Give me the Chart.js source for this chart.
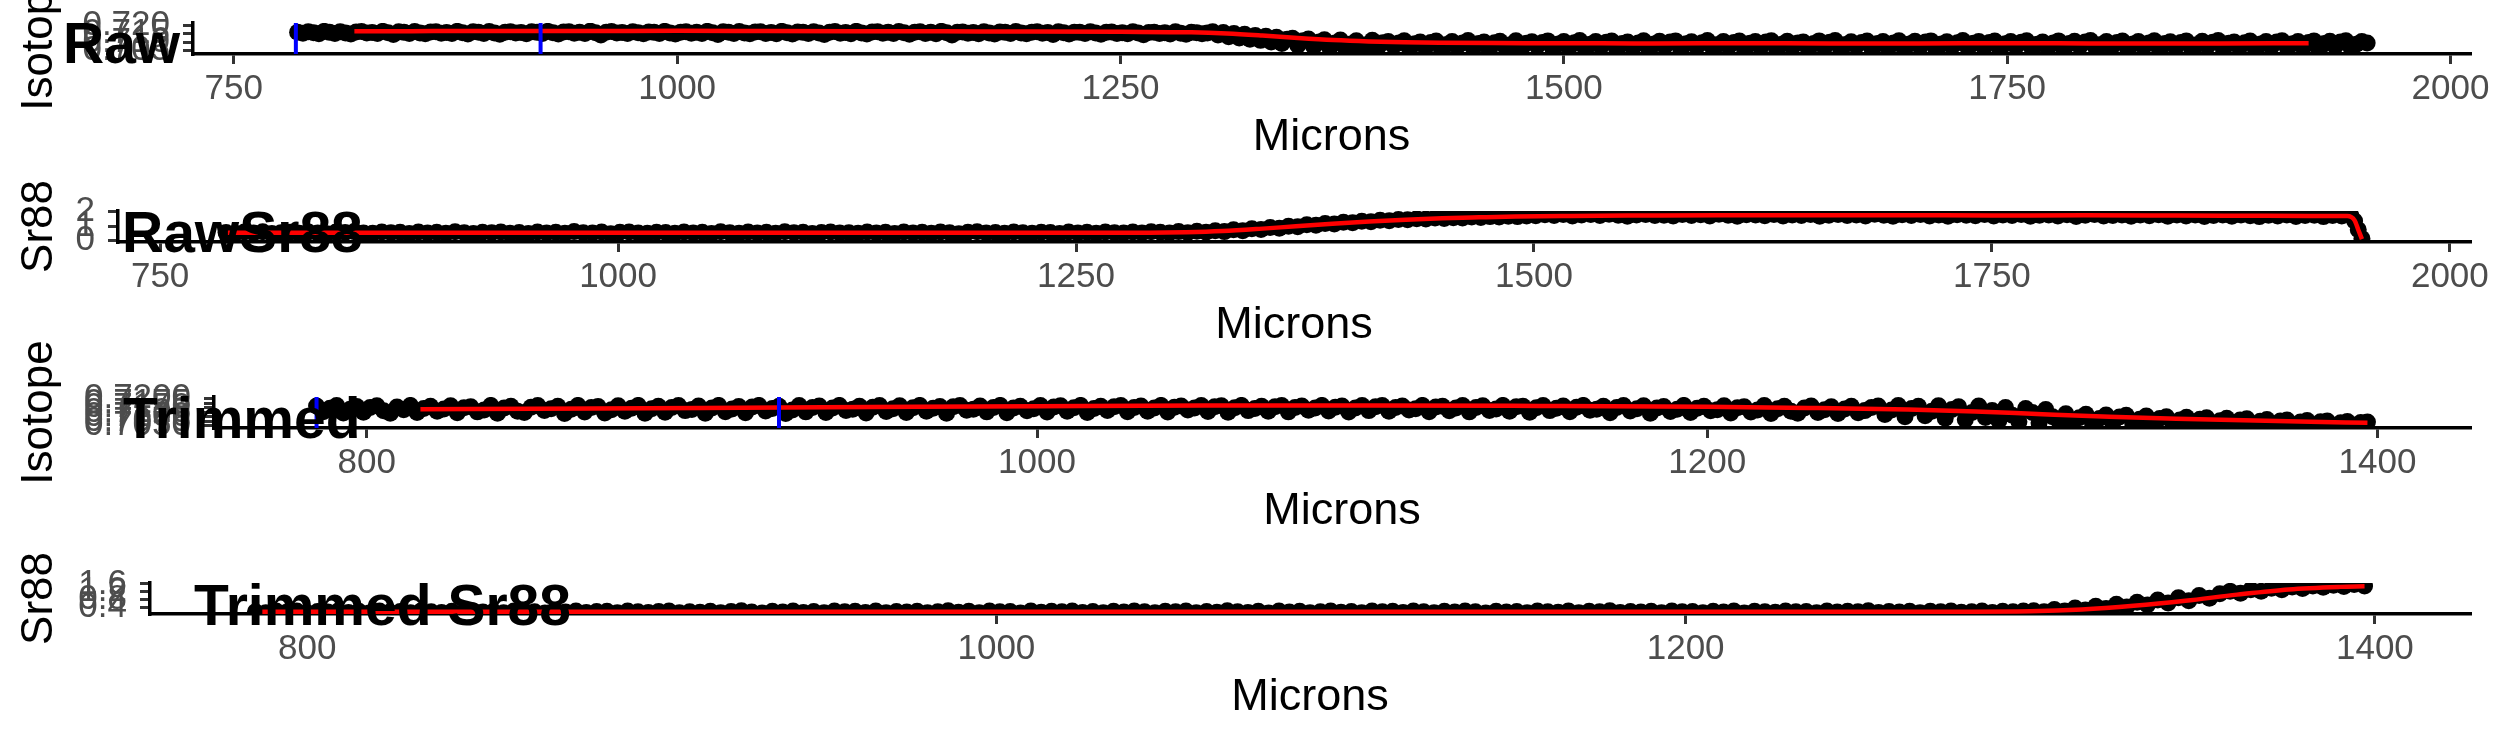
<!DOCTYPE html>
<html><head><meta charset="utf-8">
<script src="https://cdn.jsdelivr.net/npm/chart.js@4.4.1/dist/chart.umd.min.js"></script>
<style>
html,body{margin:0;padding:0;background:#fff;}
#wrap{position:relative;width:2495px;height:749px;overflow:hidden;background:#fff;}
#wrap canvas{position:absolute;left:0;top:0;}
</style></head><body>
<div id="wrap">
<canvas id="c1" width="2495" height="749"></canvas>
<canvas id="c2" width="2495" height="749"></canvas>
<canvas id="c3" width="2495" height="749"></canvas>
<canvas id="c4" width="2495" height="749"></canvas>
</div>
<script>
// ---------------- DATA ----------------
const WINDOW_LIMITS = [785, 923];

const RAW_X_TICKS = [750, 1000, 1250, 1500, 1750, 2000];
const TRIM_X_TICKS = [800, 1000, 1200, 1400];
const RAW_RATIO_Y_TICKS = [0.705, 0.710, 0.715, 0.720];
const RAW_SR88_Y_TICKS = [0, 1, 2];
const TRIM_RATIO_Y_TICKS = [0.7050, 0.7075, 0.7100, 0.7125, 0.7150, 0.7175, 0.7200];
const TRIM_SR88_Y_TICKS = [0.4, 0.8, 1.2, 1.6];

const RAW_RATIO_MICRONS = [
786,789,792,795,798,801,804,807,810,813,
816,819,822,825,828,831,834,837,840,843,
846,849,852,855,858,861,864,867,870,873,
876,879,882,885,888,891,894,897,900,903,
906,909,912,915,918,921,924,927,930,933,
936,939,942,945,948,951,954,957,960,963,
966,969,972,975,978,981,984,987,990,993,
996,999,1002,1005,1008,1011,1014,1017,1020,1023,
1026,1029,1032,1035,1038,1041,1044,1047,1050,1053,
1056,1059,1062,1065,1068,1071,1074,1077,1080,1083,
1086,1089,1092,1095,1098,1101,1104,1107,1110,1113,
1116,1119,1122,1125,1128,1131,1134,1137,1140,1143,
1146,1149,1152,1155,1158,1161,1164,1167,1170,1173,
1176,1179,1182,1185,1188,1191,1194,1197,1200,1203,
1206,1209,1212,1215,1218,1221,1224,1227,1230,1233,
1236,1239,1242,1245,1248,1251,1254,1257,1260,1263,
1266,1269,1272,1275,1278,1281,1284,1287,1290,1293,
1296,1299,1302,1305,1308,1311,1314,1317,1320,1323,
1326,1329,1332,1335,1338,1341,1344,1347,1350,1353,
1356,1359,1362,1365,1368,1371,1374,1377,1380,1383,
1386,1389,1392,1395,1398,1401,1404,1407,1410,1413,
1416,1419,1422,1425,1428,1431,1434,1437,1440,1443,
1446,1449,1452,1455,1458,1461,1464,1467,1470,1473,
1476,1479,1482,1485,1488,1491,1494,1497,1500,1503,
1506,1509,1512,1515,1518,1521,1524,1527,1530,1533,
1536,1539,1542,1545,1548,1551,1554,1557,1560,1563,
1566,1569,1572,1575,1578,1581,1584,1587,1590,1593,
1596,1599,1602,1605,1608,1611,1614,1617,1620,1623,
1626,1629,1632,1635,1638,1641,1644,1647,1650,1653,
1656,1659,1662,1665,1668,1671,1674,1677,1680,1683,
1686,1689,1692,1695,1698,1701,1704,1707,1710,1713,
1716,1719,1722,1725,1728,1731,1734,1737,1740,1743,
1746,1749,1752,1755,1758,1761,1764,1767,1770,1773,
1776,1779,1782,1785,1788,1791,1794,1797,1800,1803,
1806,1809,1812,1815,1818,1821,1824,1827,1830,1833,
1836,1839,1842,1845,1848,1851,1854,1857,1860,1863,
1866,1869,1872,1875,1878,1881,1884,1887,1890,1893,
1896,1899,1902,1905,1908,1911,1914,1917,1920,1923,
1926,1929,1932,1935,1938,1941,1944,1947,1950,1953];

const RAW_RATIO_VALUES = [
0.7158,0.7152,0.7161,0.7155,0.7149,0.7163,0.7157,0.7151,0.7160,0.7154,
0.7148,0.7159,0.7162,0.7153,0.7156,0.7150,0.7163,0.7155,0.7144,0.7160,
0.7157,0.7151,0.7162,0.7154,0.7149,0.7159,0.7161,0.7152,0.7156,0.7150,
0.7163,0.7155,0.7148,0.7160,0.7158,0.7151,0.7162,0.7154,0.7146,0.7158,
0.7161,0.7153,0.7156,0.7149,0.7160,0.7157,0.7151,0.7163,0.7155,0.7148,
0.7159,0.7161,0.7152,0.7157,0.7150,0.7164,0.7155,0.7142,0.7158,0.7162,
0.7153,0.7156,0.7150,0.7161,0.7155,0.7149,0.7159,0.7157,0.7151,0.7163,
0.7154,0.7147,0.7158,0.7161,0.7152,0.7157,0.7150,0.7163,0.7155,0.7145,
0.7160,0.7158,0.7151,0.7162,0.7154,0.7149,0.7159,0.7161,0.7150,0.7156,
0.7149,0.7163,0.7155,0.7148,0.7159,0.7157,0.7150,0.7161,0.7153,0.7144,
0.7158,0.7162,0.7152,0.7156,0.7149,0.7163,0.7154,0.7148,0.7159,0.7160,
0.7152,0.7157,0.7150,0.7162,0.7155,0.7146,0.7158,0.7161,0.7151,0.7157,
0.7149,0.7163,0.7155,0.7141,0.7158,0.7159,0.7152,0.7156,0.7149,0.7161,
0.7154,0.7148,0.7159,0.7157,0.7151,0.7162,0.7154,0.7149,0.7158,0.7160,
0.7152,0.7156,0.7145,0.7161,0.7155,0.7148,0.7158,0.7157,0.7150,0.7161,
0.7153,0.7146,0.7157,0.7159,0.7151,0.7155,0.7149,0.7160,0.7153,0.7143,
0.7156,0.7158,0.7150,0.7155,0.7148,0.7160,0.7152,0.7146,0.7157,0.7155,
0.7149,0.7154,
0.7160,0.7141,0.7156,0.7132,0.7150,0.7124,0.7146,0.7117,0.7138,0.7110,
0.7134,0.7100,0.7128,0.7092,0.7116,0.7122,0.7082,0.7108,0.7118,0.7072,
0.7100,0.7114,0.7066,0.7094,0.7112,0.7062,0.7088,0.7108,0.7058,0.7084,
0.7110,0.7066,0.7096,
0.7104,0.7078,0.7094,0.7108,0.7062,0.7090,0.7101,0.7070,0.7097,0.7106,
0.7058,0.7086,0.7103,0.7075,0.7095,0.7109,0.7066,0.7091,0.7100,0.7054,
0.7096,0.7105,0.7072,0.7085,0.7108,0.7060,0.7093,0.7102,0.7077,0.7098,
0.7107,0.7056,0.7089,0.7104,0.7070,0.7096,0.7109,0.7064,0.7087,0.7103,
0.7074,0.7099,0.7106,0.7052,0.7092,0.7101,0.7068,0.7095,0.7108,0.7061,
0.7088,0.7105,0.7076,0.7100,0.7107,0.7055,0.7090,0.7102,0.7071,0.7096,
0.7109,0.7066,0.7086,0.7104,0.7075,0.7098,0.7106,0.7053,0.7093,0.7103,
0.7069,0.7100,0.7108,0.7060,0.7087,0.7105,0.7073,0.7095,0.7101,0.7057,
0.7091,0.7107,0.7070,0.7099,0.7109,0.7063,0.7086,0.7102,0.7078,0.7097,
0.7106,0.7054,0.7092,0.7104,0.7067,0.7094,0.7108,0.7061,0.7089,0.7105,
0.7072,0.7101,0.7107,0.7051,0.7088,0.7102,0.7075,0.7096,0.7109,0.7064,
0.7093,0.7103,0.7070,0.7098,0.7106,0.7058,0.7090,0.7104,0.7074,0.7099,
0.7108,0.7062,0.7087,0.7101,0.7068,0.7095,0.7107,0.7054,0.7092,0.7105,
0.7076,0.7100,0.7109,0.7065,0.7086,0.7103,0.7071,0.7097,0.7106,0.7059,
0.7089,0.7104,0.7073,0.7094,0.7108,0.7052,0.7091,0.7102,0.7069,0.7098,
0.7107,0.7063,0.7085,0.7105,0.7077,0.7099,0.7109,0.7057,0.7093,0.7101,
0.7070,0.7096,0.7106,0.7060,0.7088,0.7104,0.7074,0.7100,0.7108,0.7066,
0.7090,0.7103,0.7070,0.7097,0.7107,0.7055,0.7092,0.7105,0.7076,0.7100,
0.7108,0.7064,0.7087,0.7104,0.7094];

const RAW_RATIO_SMOOTH_MICRONS = [818,850,900,950,1000,1050,1100,1150,1200,1250,1290,1310,1330,1350,1370,1390,1410,1430,1460,1500,1550,1600,1650,1700,1750,1800,1850,1900,1920];
const RAW_RATIO_SMOOTH_VALUES = [0.7163,0.7164,0.7165,0.7165,0.7166,0.7165,0.7164,0.7163,0.7162,0.7160,0.7157,0.7150,0.7138,0.7124,0.7112,0.7104,0.7099,0.7096,0.7094,0.7093,0.7092,0.7093,0.7092,0.7092,0.7093,0.7092,0.7092,0.7093,0.7093];

const RAW_SR88_MICRONS = [
786,791,796,801,806,811,816,821,826,831,
836,841,846,851,856,861,866,871,876,881,
886,891,896,901,906,911,916,921,926,931,
936,941,946,951,956,961,966,971,976,981,
986,991,996,1001,1006,1011,1016,1021,1026,1031,
1036,1041,1046,1051,1056,1061,1066,1071,1076,1081,
1086,1091,1096,1101,1106,1111,1116,1121,1126,1131,
1136,1141,1146,1151,1156,1161,1166,1171,1176,1181,
1186,1191,1196,1201,1206,1211,1216,1221,1226,1231,
1236,1241,1246,1251,1256,1261,1266,1271,1276,1281,
1286,1291,1296,1301,1306,1311,1316,1321,1326,1331,
1336,1341,1346,1351,1356,1361,1366,1371,1376,1381,
1386,1391,1396,1401,1406,1411,1416,1421,1426,1431,
1436,1441,1446,1451,1456,1461,1466,1471,1476,1481,
1486,1491,1496,1501,1506,1511,1516,1521,1526,1531,
1536,1541,1546,1551,1556,1561,1566,1571,1576,1581,
1586,1591,1596,1601,1606,1611,1616,1621,1626,1631,
1636,1641,1646,1651,1656,1661,1666,1671,1676,1681,
1686,1691,1696,1701,1706,1711,1716,1721,1726,1731,
1736,1741,1746,1751,1756,1761,1766,1771,1776,1781,
1786,1791,1796,1801,1806,1811,1816,1821,1826,1831,
1836,1841,1846,1851,1856,1861,1866,1871,1876,1881,
1886,1891,1896,1901,1906,1911,1916,1921,1926,1931,
1936,1941,1946,1948,1950,1952];

const RAW_SR88_VALUES = [
0.56,0.50,0.60,0.53,0.61,0.49,0.55,0.58,0.51,0.60,
0.53,0.48,0.59,0.56,0.62,0.52,0.50,0.59,0.54,0.57,
0.49,0.60,0.52,0.57,0.51,0.61,0.55,0.49,0.58,0.54,
0.60,0.51,0.56,0.49,0.59,0.53,0.58,0.50,0.62,0.54,
0.52,0.59,0.48,0.57,0.60,0.53,0.50,0.58,0.56,0.51,
0.60,0.52,0.57,0.49,0.61,0.55,0.51,0.59,0.53,0.57,
0.50,0.61,0.54,0.58,0.49,0.56,0.60,0.52,0.55,0.50,
0.59,0.53,0.58,0.49,0.60,0.52,0.57,0.51,0.59,0.54,
0.48,0.57,0.61,0.53,0.56,0.50,0.59,0.54,0.51,0.58,
0.56,0.49,0.60,0.52,0.58,0.50,0.60,0.55,0.52,0.59,
0.53,0.61,0.57,
0.53,0.62,0.55,0.64,0.58,0.68,0.62,0.75,0.68,0.82,
0.76,0.90,0.86,1.00,0.96,1.10,1.06,1.19,1.15,1.27,
1.24,1.34,1.31,1.41,1.38,1.46,1.44,1.51,1.49,1.56,
1.53,1.59,1.57,1.63,1.60,1.66,1.63,1.69,1.66,1.71,
1.72,1.79,1.74,1.81,1.70,1.77,1.80,1.73,1.82,1.75,
1.69,1.78,1.81,1.73,1.76,1.70,1.80,1.74,1.79,1.71,
1.82,1.75,1.69,1.79,1.77,1.72,1.81,1.70,1.78,1.74,
1.80,1.68,1.76,1.81,1.73,1.78,1.71,1.82,1.75,1.69,
1.79,1.73,1.80,1.70,1.77,1.68,1.79,1.75,1.72,1.81,
1.70,1.78,1.74,1.80,1.69,1.76,1.78,1.71,1.79,1.67,
1.75,1.80,1.70,1.73,1.78,1.68,1.77,1.72,1.79,1.69,
1.77,1.71,1.78,1.67,1.74,1.77,1.69,1.78,1.72,1.66,
1.75,1.70,1.77,1.67,1.73,1.76,1.66,1.74,1.70,1.72,
1.35,0.75,0.15];

const RAW_SR88_SMOOTH_MICRONS = [787,820,850,900,950,1000,1050,1100,1150,1200,1250,1290,1310,1330,1350,1370,1390,1410,1430,1450,1470,1490,1520,1560,1600,1650,1700,1750,1800,1850,1900,1930,1944,1948,1950,1952];
const RAW_SR88_SMOOTH_VALUES = [0.55,0.54,0.55,0.54,0.55,0.54,0.55,0.55,0.54,0.55,0.55,0.55,0.58,0.66,0.81,0.99,1.16,1.32,1.44,1.54,1.61,1.67,1.71,1.74,1.76,1.75,1.76,1.74,1.75,1.73,1.72,1.71,1.70,1.40,0.75,0.10];

const TRIM_RATIO_MICRONS = [
785,787,789,791,793,795,797,799,801,803,
805,807,809,811,813,815,817,819,821,823,
825,827,829,831,833,835,837,839,841,843,
845,847,849,851,853,855,857,859,861,863,
865,867,869,871,873,875,877,879,881,883,
885,887,889,891,893,895,897,899,901,903,
905,907,909,911,913,915,917,919,921,923,
925,927,929,931,933,935,937,939,941,943,
945,947,949,951,953,955,957,959,961,963,
965,967,969,971,973,975,977,979,981,983,
985,987,989,991,993,995,997,999,1001,1003,
1005,1007,1009,1011,1013,1015,1017,1019,1021,1023,
1025,1027,1029,1031,1033,1035,1037,1039,1041,1043,
1045,1047,1049,1051,1053,1055,1057,1059,1061,1063,
1065,1067,1069,1071,1073,1075,1077,1079,1081,1083,
1085,1087,1089,1091,1093,1095,1097,1099,1101,1103,
1105,1107,1109,1111,1113,1115,1117,1119,1121,1123,
1125,1127,1129,1131,1133,1135,1137,1139,1141,1143,
1145,1147,1149,1151,1153,1155,1157,1159,1161,1163,
1165,1167,1169,1171,1173,1175,1177,1179,1181,1183,
1185,1187,1189,1191,1193,1195,1197,1199,1201,1203,
1205,1207,1209,1211,1213,1215,1217,1219,1221,1223,
1225,1227,1229,1231,1233,1235,1237,1239,1241,1243,
1245,1247,1249,1251,1253,1255,1257,1259,1261,1263,
1265,1267,1269,1271,1273,1275,1277,1279,1281,1283,
1285,1287,1289,1291,1293,1295,1297,1299,1301,1303,
1305,1307,1309,1311,1313,1315,1317,1319,1321,1323,
1325,1327,1329,1331,1333,1335,1337,1339,1341,1343,
1345,1347,1349,1351,1353,1355,1357,1359,1361,1363,
1365,1367,1369,1371,1373,1375,1377,1379,1381,1383,
1385,1387,1389,1391,1393,1395,1397];

const TRIM_RATIO_VALUES = [
0.7160,0.7128,0.7147,0.7162,0.7121,0.7141,0.7157,0.7125,0.7151,0.7161,
0.7133,0.7119,0.7154,0.7139,0.7163,0.7124,0.7146,0.7159,0.7130,0.7143,
0.7161,0.7122,0.7150,0.7156,0.7127,0.7137,0.7163,0.7120,0.7148,0.7158,
0.7131,0.7123,0.7153,0.7162,0.7135,0.7144,0.7159,0.7118,0.7142,0.7163,
0.7126,0.7151,0.7157,0.7121,0.7139,0.7161,0.7130,0.7147,0.7163,0.7119,
0.7145,0.7158,0.7125,0.7152,0.7162,0.7134,0.7140,0.7160,0.7120,0.7149,
0.7163,0.7128,0.7143,0.7157,0.7122,0.7154,0.7163,0.7132,0.7146,0.7159,
0.7118,0.7138,0.7162,0.7127,0.7151,0.7160,0.7123,0.7148,0.7163,0.7135,
0.7141,0.7158,0.7121,0.7153,0.7162,0.7129,0.7144,0.7161,0.7124,0.7150,
0.7163,0.7131,0.7147,0.7157,0.7120,0.7155,0.7162,0.7136,0.7142,0.7160,
0.7127,0.7152,0.7163,0.7122,0.7149,0.7159,0.7133,0.7145,0.7162,0.7126,
0.7154,0.7161,0.7130,0.7150,0.7163,0.7124,0.7146,0.7158,0.7135,0.7155,
0.7162,0.7128,0.7151,0.7160,0.7131,0.7148,0.7163,0.7126,0.7153,0.7160,
0.7137,0.7149,0.7162,0.7129,0.7156,0.7161,0.7125,0.7150,0.7163,0.7134,
0.7146,0.7159,0.7131,0.7155,0.7162,0.7127,0.7152,0.7160,0.7136,0.7148,
0.7163,0.7132,0.7153,0.7160,0.7126,0.7149,0.7162,0.7134,0.7156,0.7162,
0.7130,0.7151,0.7160,0.7138,0.7145,0.7163,0.7128,0.7154,0.7159,0.7133,
0.7148,0.7162,0.7127,0.7152,0.7161,0.7135,0.7143,0.7163,0.7131,0.7155,
0.7159,0.7125,0.7150,0.7162,0.7134,0.7147,0.7160,0.7128,0.7153,0.7163,
0.7136,0.7142,0.7158,0.7122,0.7151,0.7162,0.7132,0.7145,0.7161,0.7120,
0.7149,0.7157,0.7129,0.7141,0.7163,0.7123,0.7147,0.7159,0.7133,0.7139,
0.7161,0.7121,0.7150,0.7156,0.7126,0.7137,0.7162,0.7118,0.7144,0.7158,
0.7130,0.7120,0.7148,0.7160,0.7124,0.7139,0.7156,0.7118,0.7143,0.7159,
0.7122,0.7134,0.7152,
0.7160,0.7112,0.7138,0.7162,0.7100,0.7146,0.7158,0.7106,0.7130,0.7161,
0.7092,0.7140,0.7155,0.7085,0.7124,0.7160,0.7096,0.7134,0.7078,0.7152,
0.7108,0.7072,0.7146,0.7124,0.7066,0.7140,0.7100,0.7074,
0.7116,0.7070,0.7094,0.7114,0.7060,0.7090,0.7110,0.7066,0.7098,0.7108,
0.7056,0.7086,0.7104,0.7062,0.7090,0.7100,0.7054,0.7082,0.7097,0.7060,
0.7086,0.7094,0.7052,0.7078,0.7091,0.7057,0.7082,0.7088,0.7050,0.7074,
0.7085,0.7055,0.7076,0.7082,0.7049,0.7070,0.7079,0.7052,0.7072,0.7076,
0.7048,0.7066,0.7073,0.7052,0.7068,0.7071];

const TRIM_RATIO_SMOOTH_MICRONS = [816,850,900,950,1000,1050,1100,1150,1200,1230,1260,1280,1300,1320,1340,1360,1380,1397];
const TRIM_RATIO_SMOOTH_VALUES = [0.7142,0.7145,0.7149,0.7154,0.7159,0.7163,0.7163,0.7160,0.7155,0.7149,0.7140,0.7129,0.7114,0.7100,0.7089,0.7080,0.7072,0.7066];

const TRIM_SR88_MICRONS = [
785,788,791,794,797,800,803,806,809,812,
815,818,821,824,827,830,833,836,839,842,
845,848,851,854,857,860,863,866,869,872,
875,878,881,884,887,890,893,896,899,902,
905,908,911,914,917,920,923,926,929,932,
935,938,941,944,947,950,953,956,959,962,
965,968,971,974,977,980,983,986,989,992,
995,998,1001,1004,1007,1010,1013,1016,1019,1022,
1025,1028,1031,1034,1037,1040,1043,1046,1049,1052,
1055,1058,1061,1064,1067,1070,1073,1076,1079,1082,
1085,1088,1091,1094,1097,1100,1103,1106,1109,1112,
1115,1118,1121,1124,1127,1130,1133,1136,1139,1142,
1145,1148,1151,1154,1157,1160,1163,1166,1169,1172,
1175,1178,1181,1184,1187,1190,1193,1196,1199,1202,
1205,1208,1211,1214,1217,1220,1223,1226,1229,1232,
1235,1238,1241,1244,1247,1250,1253,1256,1259,1262,
1265,1268,1271,1274,1277,1280,1283,1286,1289,1292,
1295,1298,1301,1304,1307,1310,1313,1316,1319,1322,
1325,1328,1331,1334,1337,1340,1343,1346,1349,1352,
1355,1358,1361,1364,1367,1370,1373,1376,1379,1382,
1385,1388,1391,1394,1397];

const TRIM_SR88_VALUES = [
0.17,0.12,0.20,0.14,0.21,0.11,0.18,0.15,0.20,0.13,
0.19,0.10,0.21,0.15,0.18,0.12,0.20,0.16,0.13,0.19,
0.11,0.22,0.15,0.18,0.12,0.20,0.14,0.17,0.10,0.19,
0.15,0.21,0.13,0.18,0.19,0.11,0.20,0.16,0.13,0.18,
0.21,0.11,0.17,0.14,0.19,0.12,0.18,0.22,0.15,0.10,
0.19,0.15,0.20,0.13,0.18,0.11,0.20,0.16,0.19,0.13,
0.21,0.11,0.18,0.15,0.19,0.12,0.17,0.22,0.14,0.19,
0.12,0.20,0.16,0.18,0.10,0.20,0.14,0.19,0.16,0.21,
0.13,0.18,0.11,0.19,0.15,0.21,0.17,0.12,0.19,0.16,
0.20,0.12,0.18,0.14,0.22,0.16,0.13,0.19,0.10,0.20,
0.15,0.19,0.12,0.17,0.21,0.14,0.18,0.11,0.20,0.16,
0.19,0.13,0.21,0.16,0.12,0.19,0.15,0.20,0.17,0.10,
0.19,0.15,0.18,0.12,0.21,0.17,0.14,0.20,0.11,0.19,
0.16,0.22,0.13,0.18,0.15,0.19,0.12,0.20,0.17,0.18,
0.12,0.19,0.15,0.21,0.10,0.19,0.17,0.14,0.20,0.16,
0.18,0.12,0.20,0.15,0.19,0.16,0.22,0.13,0.18,0.15,
0.19,0.11,0.19,0.16,0.21,0.14,0.17,0.20,0.13,0.19,
0.17,0.20,
0.22,0.16,0.28,0.20,0.36,0.26,0.45,0.33,0.55,0.41,
0.66,0.51,0.77,0.62,0.89,0.74,1.00,0.86,1.10,
1.22,1.12,1.30,1.22,1.38,1.30,1.45,1.37,1.50,1.43,
1.54,1.47,1.57,1.50];

const TRIM_SR88_SMOOTH_MICRONS = [787,820,850,900,950,1000,1050,1100,1150,1200,1250,1280,1300,1315,1330,1345,1360,1375,1390,1397];
const TRIM_SR88_SMOOTH_VALUES = [0.16,0.16,0.17,0.16,0.16,0.17,0.16,0.17,0.16,0.16,0.17,0.17,0.19,0.28,0.47,0.73,1.05,1.32,1.45,1.48];

// ---------------- LAYOUT / STYLE ----------------
const W = 2495, H = 749;
const FONT = '"Liberation Sans", Arial, Helvetica, sans-serif';
const X_SCALE_H = 111;
const DOT_R = 8.5;

const labelPlugin = {
  id: 'panelLabel',
  afterDraw(chart, args, opts) {
    const ctx = chart.ctx;
    ctx.save();
    ctx.font = 'bold 57px ' + FONT;
    ctx.fillStyle = '#000000';
    ctx.textAlign = 'left';
    ctx.textBaseline = 'alphabetic';
    ctx.fillText(opts.text, opts.x, opts.y);
    ctx.restore();
  }
};

function buildPanel(id, p) {
  const pts = p.xs.map((x, i) => ({x: x, y: p.ys[i]}));
  const smooth = p.sx.map((x, i) => ({x: x, y: p.sy[i]}));
  const datasets = [];
  p.vlines.forEach(v => datasets.push({
    type: 'line', data: [{x: v, y: p.yMin}, {x: v, y: p.yMax}],
    borderColor: '#0000FF', borderWidth: 4, pointRadius: 0, order: 0
  }));
  datasets.push({
    type: 'line', data: smooth, borderColor: '#FF0000', borderWidth: 4.5,
    pointRadius: 0, cubicInterpolationMode: 'monotone', order: 1
  });
  datasets.push({
    type: 'scatter', data: pts, showLine: false,
    backgroundColor: '#000000', borderColor: '#000000', borderWidth: 0,
    pointBackgroundColor: '#000000', pointBorderWidth: 0,
    pointRadius: DOT_R, pointHoverRadius: DOT_R, order: 2
  });
  new Chart(document.getElementById(id), {
    type: 'scatter',
    data: {datasets: datasets},
    options: {
      responsive: false, animation: false, devicePixelRatio: 1, events: [],
      layout: {padding: {left: 0, right: W - p.box.right, top: p.box.top, bottom: H - p.box.bottom - X_SCALE_H}},
      plugins: {legend: {display: false}, tooltip: {enabled: false}, panelLabel: p.label},
      scales: {
        x: {
          type: 'linear', position: 'bottom', min: p.xMin, max: p.xMax,
          afterBuildTicks: s => { s.ticks = p.xTicks.map(v => ({value: v})); },
          afterFit: s => { s.height = X_SCALE_H; s.paddingLeft = 0; s.paddingRight = 0; },
          grid: {drawOnChartArea: false, drawTicks: true, tickLength: 10, color: '#333333', lineWidth: 3},
          border: {display: true, color: '#000000', width: 3.5},
          ticks: {autoSkip: false, maxRotation: 0, minRotation: 0, padding: 4, color: '#4D4D4D',
                  font: {family: FONT, size: 35}, callback: v => String(v)},
          title: {display: true, text: 'Microns', color: '#000000', font: {family: FONT, size: 45},
                  padding: {top: 0, bottom: 0}}
        },
        y: {
          type: 'linear', position: 'left', min: p.yMin, max: p.yMax,
          afterBuildTicks: s => { s.ticks = p.yTicks.map(v => ({value: v})); },
          afterFit: s => { s.width = p.box.left; s.paddingTop = 0; s.paddingBottom = 0; },
          grid: {drawOnChartArea: false, drawTicks: true, tickLength: 10, color: '#333333', lineWidth: 3},
          border: {display: true, color: '#000000', width: 3.5},
          ticks: {autoSkip: false, padding: 13, color: '#4D4D4D', font: {family: FONT, size: 35},
                  callback: v => Number(v).toFixed(p.yDecimals)},
          title: {display: true, text: p.yTitle, color: '#000000', font: {family: FONT, size: 44},
                  padding: {top: 13.6, bottom: 0}}
        }
      }
    },
    plugins: [labelPlugin]
  });
}

buildPanel('c1', {
  xs: RAW_RATIO_MICRONS, ys: RAW_RATIO_VALUES, sx: RAW_RATIO_SMOOTH_MICRONS, sy: RAW_RATIO_SMOOTH_VALUES,
  vlines: WINDOW_LIMITS, xMin: 727, xMax: 2011, yMin: 0.7030, yMax: 0.7212,
  xTicks: RAW_X_TICKS, yTicks: RAW_RATIO_Y_TICKS, yDecimals: 3, yTitle: 'Isotope',
  box: {left: 193, right: 2470, top: 23, bottom: 54},
  label: {text: 'Raw', x: 63, y: 63}
});
buildPanel('c2', {
  xs: RAW_SR88_MICRONS, ys: RAW_SR88_VALUES, sx: RAW_SR88_SMOOTH_MICRONS, sy: RAW_SR88_SMOOTH_VALUES,
  vlines: [], xMin: 727, xMax: 2011, yMin: -0.10, yMax: 2.05,
  xTicks: RAW_X_TICKS, yTicks: RAW_SR88_Y_TICKS, yDecimals: 0, yTitle: 'Sr88',
  box: {left: 118, right: 2470, top: 211, bottom: 242},
  label: {text: 'RawSr88', x: 122, y: 252}
});
buildPanel('c3', {
  xs: TRIM_RATIO_MICRONS, ys: TRIM_RATIO_VALUES, sx: TRIM_RATIO_SMOOTH_MICRONS, sy: TRIM_RATIO_SMOOTH_VALUES,
  vlines: WINDOW_LIMITS, xMin: 754.4, xMax: 1427.6, yMin: 0.7037, yMax: 0.7210,
  xTicks: TRIM_X_TICKS, yTicks: TRIM_RATIO_Y_TICKS, yDecimals: 4, yTitle: 'Isotope',
  box: {left: 214, right: 2470, top: 397, bottom: 428},
  label: {text: 'Trimmed', x: 123, y: 438}
});
buildPanel('c4', {
  xs: TRIM_SR88_MICRONS, ys: TRIM_SR88_VALUES, sx: TRIM_SR88_SMOOTH_MICRONS, sy: TRIM_SR88_SMOOTH_VALUES,
  vlines: [], xMin: 754.4, xMax: 1427.6, yMin: 0.05, yMax: 1.65,
  xTicks: TRIM_X_TICKS, yTicks: TRIM_SR88_Y_TICKS, yDecimals: 1, yTitle: 'Sr88',
  box: {left: 150, right: 2470, top: 583, bottom: 614},
  label: {text: 'Trimmed Sr88', x: 194, y: 625}
});
</script>
</body></html>
